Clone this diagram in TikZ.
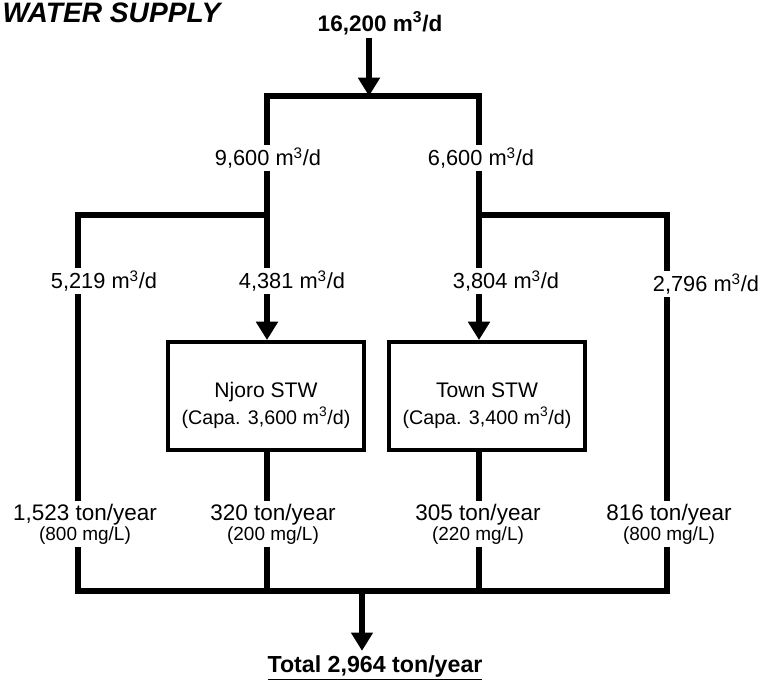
\documentclass[tikz,border=0pt]{standalone}
\usepackage{fontspec}
\setmainfont{Liberation Sans}
\usetikzlibrary{arrows.meta,positioning,calc}

\newcommand{\mthreed}{m\textsuperscript{3}/d}
\newcommand{\mgl}[1]{{\fontsize{13.5}{14}\selectfont(#1 mg/L)}}

\begin{document}
\begin{tikzpicture}[
    x=0.025cm, y=-0.025cm,
    box/.style={rectangle, draw, line width=2.8pt, minimum width=4.9cm, minimum height=2.7cm, align=center, font=\fontsize{15}{19}\selectfont},
    flow/.style={line width=4pt, line join=miter},
    arrow/.style={flow, -{Triangle[width=15pt,length=13pt]}},
    qty/.style={font=\fontsize{15.5}{17}\selectfont, inner sep=2pt},
    load/.style={align=center, font=\fontsize{16}{14}\selectfont, inner sep=2pt}
]
    \useasboundingbox (0,0) rectangle (768,683);

    \node[anchor=north west, inner sep=1pt, font=\fontsize{20}{22}\selectfont\bfseries\itshape] (title) at (1,1) {WATER SUPPLY};
    \node[qty, font=\fontsize{16}{18}\selectfont\bfseries] (inflow) at (380,23) {16,200 \mthreed};

    % branch points
    \coordinate (j0) at (369,96);
    \coordinate (a1) at (267,96);
    \coordinate (a2) at (479,96);
    \coordinate (b1) at (78,215);
    \coordinate (b2) at (267,215);
    \coordinate (b3) at (479,215);
    \coordinate (b4) at (667,215);
    \coordinate (c1) at (78,591);
    \coordinate (c4) at (667,591);
    \coordinate (out) at (362,591);

    \node[qty] (q9600) at (268,158) {9,600 \mthreed};
    \node[qty] (q6600) at (481,158) {6,600 \mthreed};
    \node[qty] (q5219) at (104,281) {5,219 \mthreed};
    \node[qty] (q4381) at (292,281) {4,381 \mthreed};
    \node[qty] (q3804) at (506,281) {3,804 \mthreed};
    \node[qty] (q2796) at (706,284) {2,796 \mthreed};

    \node[box] (njoro) at (266,396) {\rule{0pt}{24pt}Njoro STW\\{\fontsize{14}{15}\selectfont(Capa. 3,600 \mthreed)}};
    \node[box] (town) at (487,396) {\rule{0pt}{24pt}Town STW\\{\fontsize{14}{15}\selectfont(Capa. 3,400 \mthreed)}};

    \node[load] (l1523) at (85,524) {1,523 ton/year\\\mgl{800}};
    \node[load] (l320) at (273,524) {320 ton/year\\\mgl{200}};
    \node[load] (l305) at (478,524) {305 ton/year\\\mgl{220}};
    \node[load] (l816) at (669,524) {816 ton/year\\\mgl{800}};

    \node[font=\fontsize{16.5}{18}\selectfont\bfseries] (total) at (375,668) {\underline{Total 2,964 ton/year}};

    \draw[arrow] (inflow.south -| j0) -- (j0);
    \draw[flow] (q9600.north -| a1) -- (a1) -- (a2) -- (q6600.north -| a2);

    \draw[flow] (q9600.south -| a1) -- (b2) -- (b1) -- (q5219.north -| b1);
    \draw[flow] (b2) -- (q4381.north -| b2);
    \draw[arrow] (q4381.south -| b2) -- (njoro.north -| b2);
    \draw[flow] (q6600.south -| a2) -- (b3) -- (b4) -- (q2796.north -| b4);
    \draw[flow] (b3) -- (q3804.north -| b3);
    \draw[arrow] (q3804.south -| b3) -- (town.north -| b3);

    \draw[flow] (q5219.south -| b1) -- (l1523.north -| b1);
    \draw[flow] (q2796.south -| b4) -- (l816.north -| b4);
    \draw[flow] (njoro.south -| b2) -- (l320.north -| b2);
    \draw[flow] (town.south -| b3) -- (l305.north -| b3);

    \draw[flow] (l1523.south -| c1) -- (c1) -- (c4) -- (l816.south -| c4);
    \draw[flow] (l320.south -| b2) -- (b2 |- c1);
    \draw[flow] (l305.south -| b3) -- (b3 |- c1);
    \draw[arrow] (out) -- (total.north -| out);
\end{tikzpicture}
\end{document}
